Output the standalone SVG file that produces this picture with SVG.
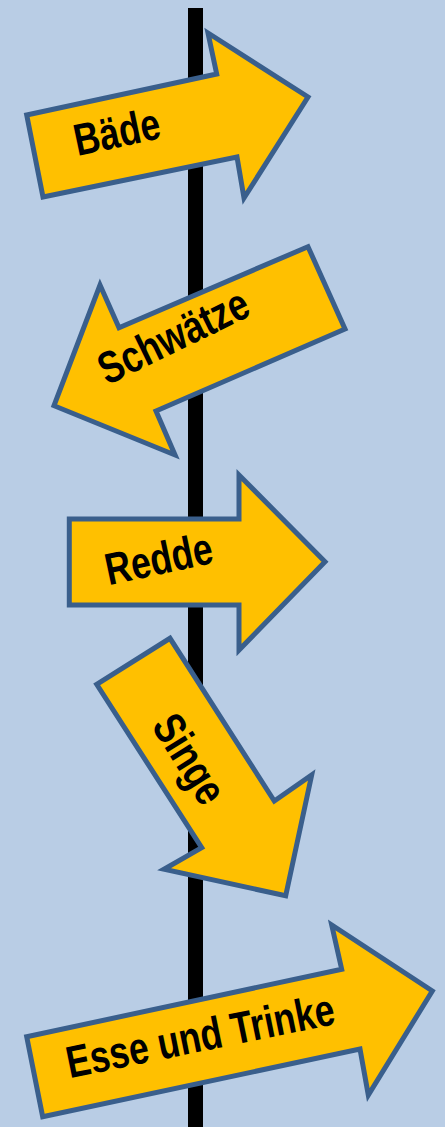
<svg xmlns="http://www.w3.org/2000/svg" width="445" height="1127" viewBox="0 0 445 1127">
<style>
.arrow{fill:#FFC000;stroke:#3A5F8C;stroke-width:5;stroke-linejoin:miter}
.lbl{font-family:"Liberation Sans",Arial,sans-serif;font-weight:bold;font-size:45px;fill:#000;text-anchor:middle}
</style>
<rect x="0" y="0" width="445" height="1127" fill="#B9CDE5"/>
<g id="pole"><rect x="188" y="8" width="15" height="1125" fill="#000"/></g>
<g id="connectors"></g>
<g id="baede">
<polygon class="arrow" points="26.7,115 216.7,74 208,33 308,97 244,198 237,157 43,197"/>
<text class="lbl" transform="translate(120,147) rotate(-12) scale(0.79,1)">Bäde</text>
</g>
<g id="schwaetze">
<polygon class="arrow" points="308,246.7 345,329 156,411 175,455 54,405.7 100,285 119,327.7"/>
<text class="lbl" transform="translate(180,350) rotate(-26) scale(0.79,1)">Schwätze</text>
</g>
<g id="redde">
<polygon class="arrow" points="69.3,519 239,519 239,475 325,561.7 239,650 239,605 69.3,605"/>
<text class="lbl" transform="translate(162,574) rotate(-12) scale(0.79,1)">Redde</text>
</g>
<g id="singe">
<polygon class="arrow" points="96.7,684.3 170,638.3 274.3,801 311.7,775 285.7,895.7 164,869.3 201.7,847.7"/>
<text class="lbl" transform="translate(176.5,767) rotate(58) scale(0.79,1)">Singe</text>
</g>
<g id="esse">
<polygon class="arrow" points="26.7,1036.7 341.7,969.3 331.7,925 432.3,991 368.3,1095 360,1049 42.7,1116.7"/>
<text class="lbl" transform="translate(203.3,1051) rotate(-11.5) scale(0.79,1)">Esse und Trinke</text>
</g>
</svg>
